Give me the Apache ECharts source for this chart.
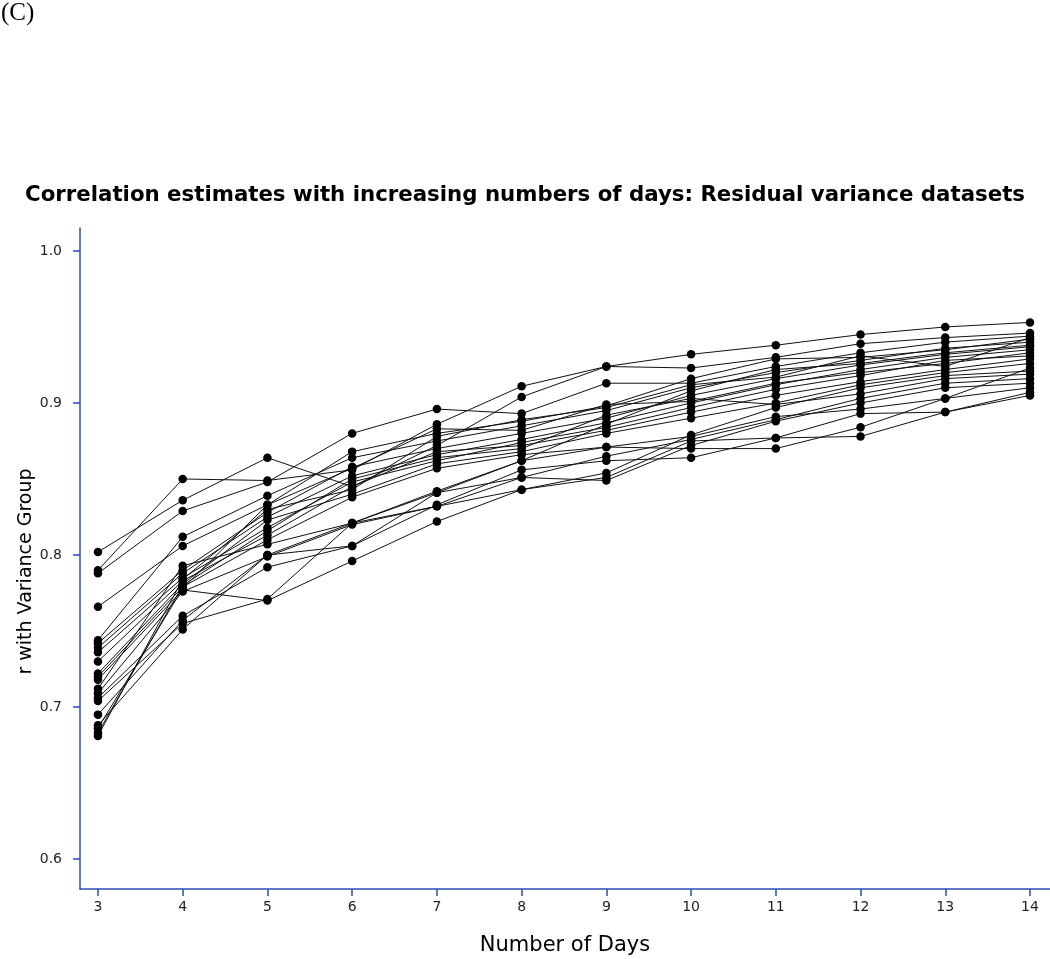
<!DOCTYPE html>
<html>
<head>
<meta charset="utf-8">
<script src="https://cdn.jsdelivr.net/npm/echarts@6/dist/echarts.min.js"></script>
<style>
html,body{margin:0;padding:0;background:#fff;}
#chart{width:1050px;height:959px;}
</style>
</head>
<body>
<div id="chart"></div>
<script>
const days = [3, 4, 5, 6, 7, 8, 9, 10, 11, 12, 13, 14];
const yTicks = [0.6, 0.7, 0.8, 0.9, 1.0];

const s1  = [0.790, 0.850, 0.849, 0.856, 0.886, 0.911, 0.924, 0.932, 0.938, 0.945, 0.950, 0.953];
const s2  = [0.802, 0.836, 0.864, 0.845, 0.872, 0.904, 0.924, 0.923, 0.930, 0.939, 0.943, 0.946];
const s3  = [0.788, 0.829, 0.848, 0.880, 0.896, 0.893, 0.913, 0.913, 0.924, 0.933, 0.940, 0.944];
const s4  = [0.766, 0.806, 0.833, 0.868, 0.880, 0.888, 0.898, 0.916, 0.929, 0.930, 0.935, 0.942];
const s5  = [0.744, 0.812, 0.839, 0.864, 0.875, 0.885, 0.895, 0.910, 0.920, 0.928, 0.936, 0.940];
const s6  = [0.742, 0.790, 0.828, 0.858, 0.870, 0.880, 0.890, 0.905, 0.916, 0.925, 0.932, 0.937];
const s7  = [0.739, 0.788, 0.825, 0.852, 0.866, 0.876, 0.887, 0.900, 0.912, 0.922, 0.930, 0.935];
const s8  = [0.736, 0.785, 0.818, 0.848, 0.862, 0.874, 0.884, 0.897, 0.909, 0.918, 0.928, 0.931];
const s9  = [0.730, 0.783, 0.813, 0.845, 0.868, 0.872, 0.882, 0.894, 0.905, 0.914, 0.922, 0.929];
const s10 = [0.722, 0.781, 0.823, 0.840, 0.860, 0.868, 0.880, 0.890, 0.900, 0.912, 0.920, 0.926];
const s11 = [0.720, 0.779, 0.810, 0.838, 0.857, 0.866, 0.871, 0.870, 0.870, 0.884, 0.903, 0.923];
const s12 = [0.718, 0.777, 0.770, 0.796, 0.822, 0.843, 0.854, 0.879, 0.897, 0.910, 0.918, 0.921];
const s13 = [0.712, 0.793, 0.807, 0.821, 0.841, 0.862, 0.886, 0.908, 0.922, 0.926, 0.933, 0.938];
const s14 = [0.709, 0.776, 0.799, 0.820, 0.832, 0.851, 0.865, 0.876, 0.889, 0.903, 0.913, 0.916];
const s15 = [0.706, 0.760, 0.792, 0.806, 0.833, 0.856, 0.862, 0.864, 0.877, 0.878, 0.894, 0.905];
const s16 = [0.704, 0.755, 0.771, 0.821, 0.842, 0.862, 0.871, 0.878, 0.891, 0.896, 0.903, 0.910];
const s17 = [0.695, 0.757, 0.800, 0.806, 0.841, 0.851, 0.849, 0.872, 0.888, 0.900, 0.910, 0.913];
const s18 = [0.688, 0.751, 0.800, 0.821, 0.832, 0.843, 0.851, 0.875, 0.877, 0.893, 0.894, 0.907];
const s19 = [0.683, 0.780, 0.816, 0.850, 0.864, 0.870, 0.892, 0.903, 0.899, 0.906, 0.916, 0.919];
const s20 = [0.681, 0.784, 0.830, 0.843, 0.878, 0.889, 0.897, 0.912, 0.917, 0.931, 0.924, 0.943];
const s21 = [0.686, 0.778, 0.833, 0.857, 0.883, 0.882, 0.899, 0.901, 0.913, 0.920, 0.926, 0.933];

const allSeries = [s1,s2,s3,s4,s5,s6,s7,s8,s9,s10,s11,s12,s13,s14,s15,s16,s17,s18,s19,s20,s21];

const axisBlue = '#2a4db5';
const chart = echarts.init(document.getElementById('chart'), null, {renderer: 'canvas'});

const series = allSeries.map((vals, i) => ({
  name: 'set' + (i + 1),
  type: 'line',
  data: days.map((d, j) => [d, vals[j]]),
  symbol: 'circle',
  symbolSize: 8.5,
  lineStyle: {color: '#111', width: 1},
  itemStyle: {color: '#000'},
  emphasis: {disabled: true},
  z: 2
}));

chart.setOption({
  animation: false,
  backgroundColor: '#fff',
  title: {
    text: 'Correlation estimates with increasing numbers of days: Residual variance datasets',
    left: 'center',
    top: 180,
    textStyle: {fontFamily: 'DejaVu Sans', fontWeight: 'bold', fontSize: 21.3, color: '#000'}
  },
  graphic: [{
    type: 'text', left: 1, top: 1,
    style: {text: '(C)', font: '25px "Liberation Serif"', fill: '#000'}
  }],
  grid: {left: 80, right: 0, top: 228, bottom: 70, containLabel: false, outerBoundsMode: 'none'},
  xAxis: {
    type: 'value',
    min: 2.788,
    max: 14.236,
    name: 'Number of Days',
    nameLocation: 'middle',
    nameGap: 46,
    nameMoveOverlap: false,
    nameTextStyle: {fontFamily: 'DejaVu Sans', fontSize: 21, color: '#000'},
    splitLine: {show: false},
    axisLine: {show: true, lineStyle: {color: axisBlue, width: 1.5}},
    axisTick: {show: true, inside: false, length: 7, customValues: days, lineStyle: {color: axisBlue, width: 1.5}},
    axisLabel: {customValues: days, margin: 11, fontFamily: 'DejaVu Sans', fontSize: 14, color: '#222'}
  },
  yAxis: {
    type: 'value',
    min: 0.5803,
    max: 1.0151,
    name: 'r with Variance Group',
    nameLocation: 'middle',
    nameGap: 44,
    nameRotate: 90,
    nameMoveOverlap: false,
    nameTextStyle: {fontFamily: 'DejaVu Sans', fontSize: 19, color: '#000', padding: [0, 26, 0, 0]},
    splitLine: {show: false},
    axisLine: {show: true, lineStyle: {color: axisBlue, width: 1.5}},
    axisTick: {show: true, length: 7, customValues: yTicks, lineStyle: {color: axisBlue, width: 1.5}},
    axisLabel: {customValues: yTicks, margin: 18, fontFamily: 'DejaVu Sans', fontSize: 14, color: '#222',
      formatter: v => v.toFixed(1)}
  },
  series: series
});
</script>
</body>
</html>
